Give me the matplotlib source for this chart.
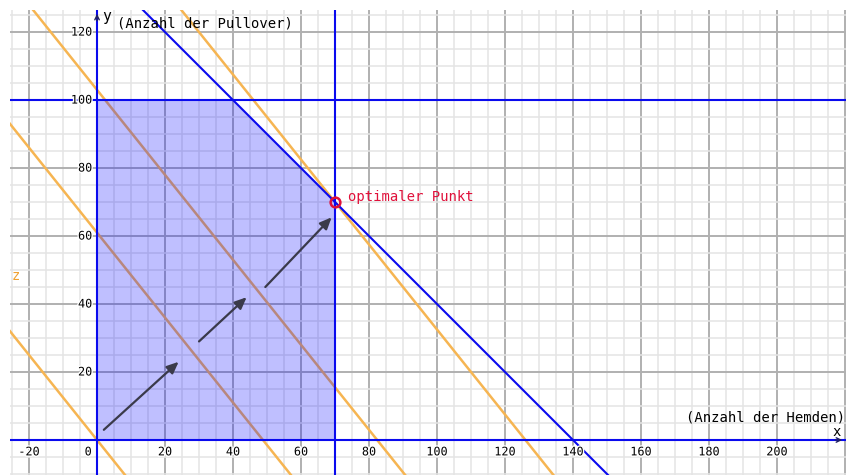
import matplotlib.pyplot as plt
import matplotlib.patheffects as pe
import numpy as np

# Data
x_ticks = [-20, 0, 20, 40, 60, 80, 100, 120, 140, 160, 180, 200]
y_ticks = [20, 40, 60, 80, 100, 120]
feasible_x = [0, 70, 70, 40, 0]
feasible_y = [0, 0, 70, 100, 100]
z_coef = (25, 20)                 # z = 25x + 20y
z_levels = [0, 1220, 2060, 3150]
arrow_starts = [(2, 3), (30, 29), (49.5, 45)]
arrow_ends = [(24, 23), (44, 42), (69, 65.5)]
opt_point = (70, 70)

xmin, xmax = -25.6, 220.3
ymin, ymax = -10.3, 126.5

fig = plt.figure(figsize=(8.46, 4.75), dpi=100)
ax = fig.add_axes([10 / 846, 0, 836 / 846, 465 / 475])
ax.set_xlim(xmin, xmax)
ax.set_ylim(ymin, ymax)
ax.set_axis_off()

mono = 'DejaVu Sans Mono'

# grid
for v in np.arange(-25, 225, 5):
    major = v % 20 == 0
    ax.axvline(v, color='#b0b0b0' if major else '#e4e4e4', lw=1.4 if major else 1.1, zorder=1)
for v in np.arange(-10, 130, 5):
    major = v % 20 == 0
    ax.axhline(v, color='#b0b0b0' if major else '#e4e4e4', lw=1.4 if major else 1.1, zorder=1)

# objective level lines
xs = np.array([xmin - 10, xmax + 10])
for z in z_levels:
    ax.plot(xs, (z - z_coef[0] * xs) / z_coef[1], color='#f6b552', lw=1.8, zorder=2)

# feasible region
ax.fill(feasible_x, feasible_y, color='#0000ff', alpha=0.25, lw=0, zorder=3)

# constraint lines and axes
blue = '#0a0aee'
ax.axvline(70, color=blue, lw=1.5, zorder=4)
ax.axhline(100, color=blue, lw=1.5, zorder=4)
ax.plot(xs, 140 - xs, color=blue, lw=1.5, zorder=4)
ax.axvline(0, color=blue, lw=1.5, zorder=4)
ax.axhline(0, color=blue, lw=1.5, zorder=4)
ax.annotate('', xy=(0, ymax - 0.3), xytext=(0, ymax - 4),
            arrowprops=dict(arrowstyle='->', color='#202060', lw=1, mutation_scale=8), zorder=5)
ax.annotate('', xy=(xmax - 0.3, 0), xytext=(xmax - 4, 0),
            arrowprops=dict(arrowstyle='->', color='#202060', lw=1, mutation_scale=8), zorder=5)

# arrows
for (x0, y0), (x1, y1) in zip(arrow_starts, arrow_ends):
    ax.annotate('', xy=(x1, y1), xytext=(x0, y0),
                arrowprops=dict(arrowstyle='-|>,head_length=0.5,head_width=0.22', color='#3a3a4a',
                                lw=1.6, mutation_scale=14, shrinkA=0, shrinkB=0), zorder=6)

# optimal point
ax.plot(*opt_point, 'o', ms=7, mfc='none', mec='#e0103a', mew=1.8, zorder=7)
ax.text(73.8, 71.5, 'optimaler Punkt', color='#e0103a', family=mono, fontsize=10,
        va='center', ha='left', zorder=7)

# tick labels
halo = [pe.withStroke(linewidth=2, foreground='white')]
for v in x_ticks:
    xpos = -2.6 if v == 0 else v
    ax.text(xpos, -3.5, str(v), family=mono, fontsize=8.5, ha='center', va='center',
            path_effects=halo, zorder=8)
for v in y_ticks:
    ax.text(-1.4, v, str(v), family=mono, fontsize=8.5, ha='right', va='center',
            path_effects=halo, zorder=8)

# axis labels
ax.text(1.6, 124.6, 'y', family=mono, fontsize=10.5, ha='left', va='center', zorder=8)
ax.text(6.0, 122.6, '(Anzahl der Pullover)', family=mono, fontsize=10, ha='left', va='center', zorder=8)
ax.text(220.0, 6.6, '(Anzahl der Hemden)', family=mono, fontsize=10, ha='right', va='center', zorder=8)
ax.text(216.3, 2.3, 'x', family=mono, fontsize=10, ha='left', va='center', zorder=8)
ax.text(-23.8, 48.2, 'z', family=mono, fontsize=10, color='#f0a030', ha='center', va='center', zorder=8)

fig.savefig('out.png', dpi=100)
